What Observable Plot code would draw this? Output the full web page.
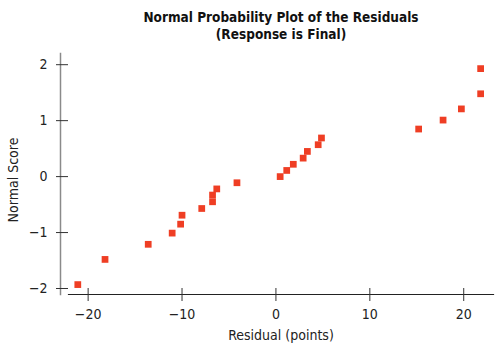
<!DOCTYPE html>
<html>
<head>
<meta charset="utf-8">
<script src="https://cdn.jsdelivr.net/npm/d3@7"></script>
<script src="https://cdn.jsdelivr.net/npm/@observablehq/plot@0.6"></script>
<style>
  html, body { margin: 0; padding: 0; background: #fff; }
  svg { display: block; }
</style>
</head>
<body>
<div id="chart"></div>
<script>
const titleLines = ["Normal Probability Plot of the Residuals", "(Response is Final)"];
const xLabel = "Residual (points)";
const yLabel = "Normal Score";
const xTicks = [-20, -10, 0, 10, 20];
const yTicks = [-2, -1, 0, 1, 2];
const residuals = [-21.1, -18.2, -13.6, -11.05, -10.15, -10.0, -7.9, -6.75, -6.75, -6.3, -4.15, 0.45, 1.15, 1.85, 2.9, 3.35, 4.5, 4.85, 15.2, 17.8, 19.75, 21.8, 21.8];
const scores = [-1.93, -1.48, -1.21, -1.01, -0.85, -0.69, -0.57, -0.45, -0.33, -0.22, -0.11, 0, 0.11, 0.22, 0.33, 0.45, 0.57, 0.69, 0.85, 1.01, 1.21, 1.48, 1.93];

const data = residuals.map((r, i) => ({residual: r, score: scores[i]}));
const font = "'Liberation Sans Narrow', 'Arial Narrow', 'DejaVu Sans Condensed', sans-serif";
const fmt = d => d < 0 ? "\u2212" + Math.abs(d) : String(d);

const chart = Plot.plot({
  width: 500,
  height: 351,
  marginLeft: 68,
  marginRight: 7,
  marginTop: 53,
  marginBottom: 57,
  style: {fontFamily: font, fontSize: "14px", color: "#222", background: "#fff"},
  x: {domain: [-22.09, 23.17]},
  y: {domain: [-2.107, 2.2]},
  marks: [
    Plot.frame({anchor: "left", dx: -8, stroke: "#8a8a8a", strokeWidth: 1.5}),
    Plot.frame({anchor: "bottom", stroke: "#222", strokeWidth: 1.2}),
    Plot.axisY({ticks: yTicks, tickSize: 12, tickPadding: 9, label: null, stroke: "#333", tickFormat: fmt, fontSize: 14}),
    Plot.axisX({ticks: xTicks, tickSize: 13, dy: -6, tickPadding: 8, label: null, stroke: "#333", tickFormat: fmt, fontSize: 14}),
    Plot.text([xLabel], {frameAnchor: "bottom", dy: 45, fontSize: 14, fill: "#222"}),
    Plot.text([yLabel], {frameAnchor: "left", textAnchor: "middle", dx: -55, dy: 6, rotate: -90, fontSize: 14, fill: "#222"}),
    Plot.text([titleLines.join("\n")], {frameAnchor: "top", dy: -43, lineAnchor: "top", lineHeight: 1.22, fontSize: 13.5, fontWeight: "bold", fill: "#111"}),
    Plot.dot(data, {x: "residual", y: "score", symbol: "square", r: 3.8, fill: "#ef3e24", stroke: "none"})
  ]
});
document.getElementById("chart").appendChild(chart);
</script>
</body>
</html>
